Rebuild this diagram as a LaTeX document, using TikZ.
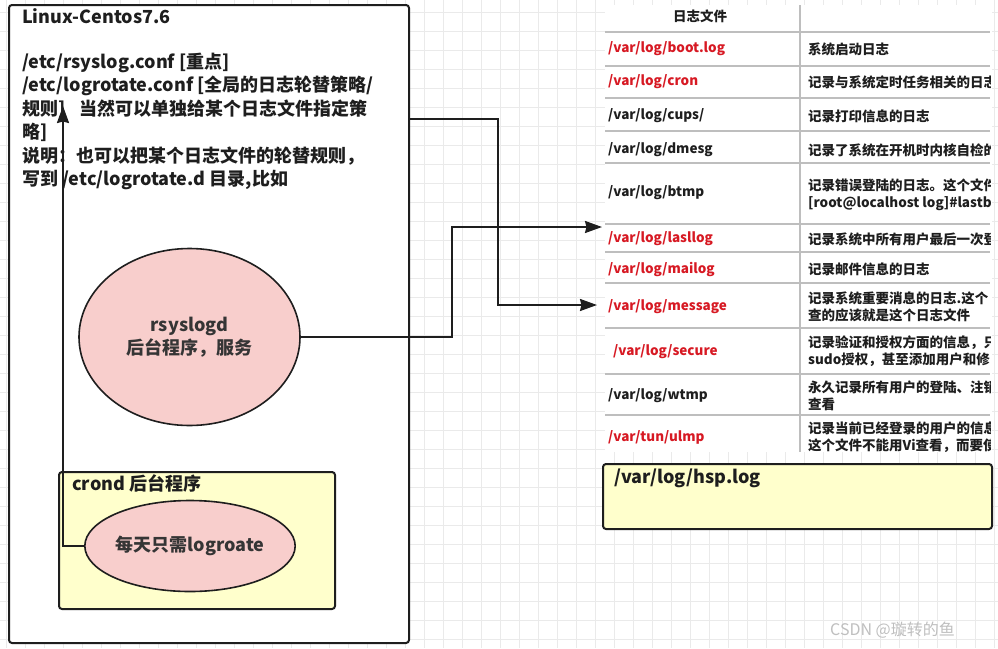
\documentclass[tikz,border=0pt]{standalone}
\usepackage{fontspec}
\setmainfont{Noto Sans CJK SC}
\usetikzlibrary{arrows.meta,shapes.geometric}
\definecolor{pinkfill}{RGB}{248,206,204}
\definecolor{yelfill}{RGB}{255,255,204}
\definecolor{linec}{RGB}{30,30,30}
\definecolor{redtxt}{RGB}{215,25,35}
\definecolor{gridc}{RGB}{234,234,234}
\definecolor{rowline}{RGB}{190,190,190}
\tikzset{
  big/.style={font=\fontsize{18}{23.5}\selectfont\bfseries, inner sep=0pt, text=linec},
  tab/.style={font=\fontsize{13.5}{17}\selectfont\bfseries, inner sep=0pt, text=linec, align=left},
  redt/.style={tab, text=redtxt},
  boxst/.style={draw=linec, line width=2pt, rounded corners=3pt, inner sep=0pt},
  ell/.style={ellipse, draw=linec, line width=1.6pt, fill=pinkfill, inner sep=0pt, align=center, font=\fontsize{18}{23}\selectfont\bfseries, text=linec!90},
  conn/.style={draw=linec, line width=2pt, -{Stealth[length=17pt,width=12pt,inset=1.5pt]}},
  rowl/.style={draw=rowline, line width=1.5pt}
}
\begin{document}
\begin{tikzpicture}[x=1pt,y=-1pt]
\useasboundingbox (0,0) rectangle (998,648);
\fill[white] (0,0) rectangle (998,648);
% background grid
\foreach \gx in {6,25,...,998} \draw[gridc, line width=0.8pt] (\gx,0) -- (\gx,648);
\foreach \gy in {12,31,...,648} \draw[gridc, line width=0.8pt] (0,\gy) -- (998,\gy);

% outer box
\node[boxst, fill=white, minimum width=400pt, minimum height=638pt, anchor=north west] (outer) at (8,4) {};
\node[big, anchor=base west] (l0) at (22,23) {Linux-Centos7.6};
\node[big, anchor=base west] (l1) at (22,68) {/etc/rsyslog.conf [重点]};
\node[big, anchor=base west] (l2) at (22,91.5) {/etc/logrotate.conf [全局的日志轮替策略/};
\node[big, anchor=base west] (l3) at (22,115) {规则]\hspace{14pt}当然可以单独给某个日志文件指定策};
\node[big, anchor=base west] (l4) at (22,138.5) {略]};
\node[big, anchor=base west] (l5) at (22,162) {说明：也可以把某个日志文件的轮替规则，};
\node[big, anchor=base west] (l6) at (22,185.5) {写到 /etc/logrotate.d 目录,比如};

% rsyslogd
\node[ell, minimum width=221pt, minimum height=177pt] (rsys) at (189.5,337) {rsyslogd\\后台程序，服务};

% crond box
\node[boxst, fill=yelfill, minimum width=276pt, minimum height=137pt, anchor=north west] (crondbox) at (58,471) {};
\node[big, anchor=base west] (crondlbl) at (72,490) {crond 后台程序};
\node[ell, minimum width=184pt, minimum height=91pt] (cron) at (190,546) {每天只需logroate};

% table
\fill[white] (605,5) rectangle (992,452);
\node[tab] (hdr) at (700,16) {日志文件};
\draw[rowl] (800,5) -- (800,452);
\foreach \ry in {32,66,98,131,163,224,252,283,328,374,415}
  \draw[rowl] (605,\ry) -- (990,\ry);

\node[redt, anchor=west] (r1) at (608,49) {/var/log/boot.log};
\node[redt, anchor=west] (r2) at (608,82) {/var/log/cron};
\node[tab, anchor=west] (r3) at (608,116) {/var/log/cups/};
\node[tab, anchor=west] (r4) at (608,150) {/var/log/dmesg};
\node[tab, anchor=west] (r5) at (608,193) {/var/log/btmp};
\node[redt, anchor=west] (r6) at (608,239) {/var/log/lasllog};
\node[redt, anchor=west] (r7) at (608,269) {/var/log/mailog};
\node[redt, anchor=west] (r8) at (608,307) {/var/log/message};
\node[redt, anchor=west] (r9) at (613,352) {/var/log/secure};
\node[tab, anchor=west] (r10) at (608,396) {/var/log/wtmp};
\node[redt, anchor=west] (r11) at (608,437) {/var/tun/ulmp};

\begin{scope}
\clip (801,5) rectangle (990,452);
\node[tab, anchor=west] (d1) at (808,49) {系统启动日志};
\node[tab, anchor=west] (d2) at (808,82) {记录与系统定时任务相关的日志};
\node[tab, anchor=west] (d3) at (808,116) {记录打印信息的日志};
\node[tab, anchor=west] (d4) at (808,150) {记录了系统在开机时内核自检的};
\node[tab, anchor=west] (d5) at (808,195) {记录错误登陆的日志。这个文件\\{[root@localhost log]\#lastb}};
\node[tab, anchor=west] (d6) at (808,239) {记录系统中所有用户最后一次登};
\node[tab, anchor=west] (d7) at (808,269) {记录邮件信息的日志};
\node[tab, anchor=west] (d8) at (808,307) {记录系统重要消息的日志.这个\\查的应该就是这个日志文件};
\node[tab, anchor=west] (d9) at (808,351) {记录验证和授权方面的信息，只\\sudo授权，甚至添加用户和修};
\node[tab, anchor=west] (d10) at (808,396) {永久记录所有用户的登陆、注销\\查看};
\node[tab, anchor=west] (d11) at (808,437) {记录当前已经登录的用户的信息\\这个文件不能用Vi查看，而要使};
\end{scope}

% hsp.log box
\node[boxst, fill=yelfill, minimum width=389pt, minimum height=65pt, anchor=north west] (hsp) at (602,463) {};
\node[big, anchor=base west] (hsplbl) at (614,483) {/var/log/hsp.log};

% watermark
\node[inner sep=0pt, anchor=base west, text=gray!50, font=\fontsize{16}{16}\selectfont] (wm) at (830,635) {CSDN @璇转的鱼};

% connectors
\coordinate (src1) at (408,119);
\coordinate (t1) at (602,227);
\coordinate (t2) at (597,305);
\coordinate (tip3) at (63,106);
\draw[conn] (src1) -- ++(90,0) |- (t2);
\draw[conn] (rsys.east) -- ++(151,0) |- (t1);
\draw[conn] (cron.west) -| (tip3);
\end{tikzpicture}
\end{document}
